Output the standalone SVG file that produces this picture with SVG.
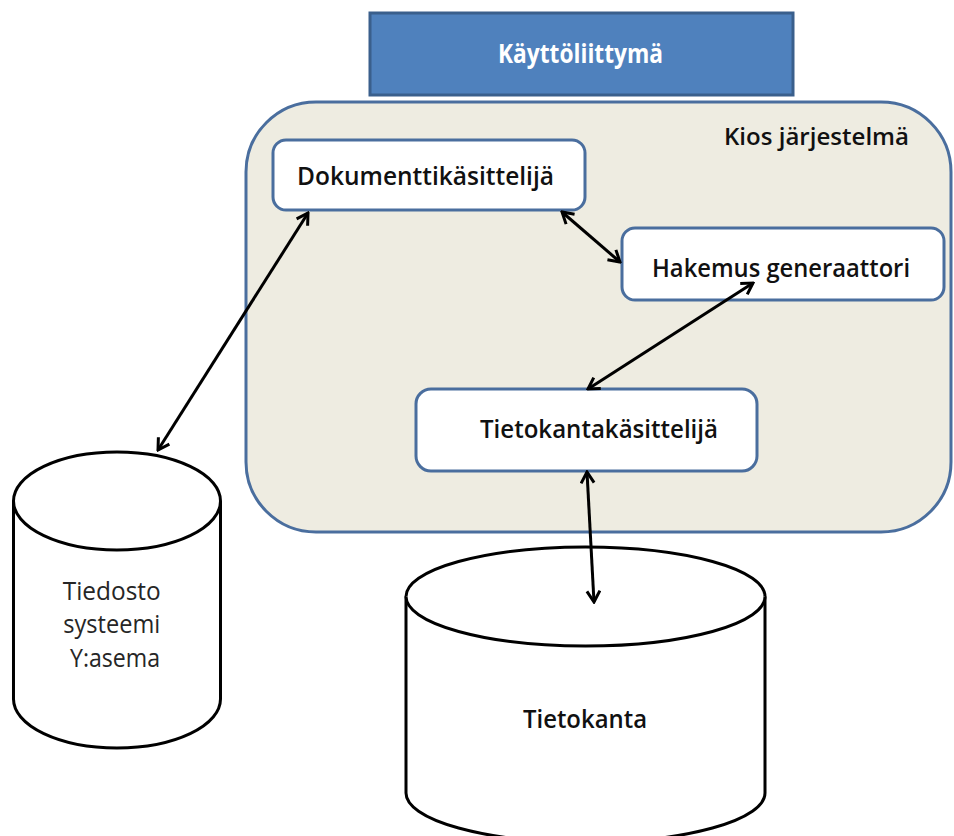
<svg xmlns="http://www.w3.org/2000/svg" width="954" height="836" viewBox="0 0 954 836">
  <defs>
    <style>
      .node { fill: #ffffff; stroke: #4a6e9e; stroke-width: 3; }
      .lbl { font-family: "Open Sans", "Liberation Sans", sans-serif; fill: #111111; }
      .b { font-weight: bold; }
      .cyl { fill: #ffffff; stroke: #000000; stroke-width: 3; }
      .link { stroke: #000000; stroke-width: 3; fill: none; marker-start: url(#tip); marker-end: url(#tip); }
    </style>
    <marker id="tip" viewBox="0 0 16 16" refX="14" refY="8" markerWidth="16" markerHeight="16" markerUnits="userSpaceOnUse" orient="auto-start-reverse">
      <path d="M3,1.5 L14,8 L3,14.5" fill="none" stroke="#000000" stroke-width="3" stroke-linejoin="miter"/>
    </marker>
  </defs>

  <!-- user interface bar -->
  <g id="kayttoliittyma">
    <rect x="370" y="13" width="423" height="82" fill="#4f81bd" stroke="#3a5f8c" stroke-width="3"/>
    <text x="580.5" y="63" text-anchor="middle" class="lbl b" font-size="27" style="fill:#ffffff" textLength="165" lengthAdjust="spacingAndGlyphs">Käyttöliittymä</text>
  </g>

  <!-- system boundary -->
  <g id="kios">
    <rect x="246" y="102" width="705" height="430" rx="70" ry="70" fill="#eeece1" stroke="#4a6e9e" stroke-width="3"/>
    <text x="724" y="145" class="lbl" font-weight="600" font-size="24" textLength="185" lengthAdjust="spacingAndGlyphs">Kios järjestelmä</text>
  </g>

  <g id="dokumenttikasittelija">
    <rect class="node" x="273" y="140" width="312" height="70" rx="13"/>
    <text x="297" y="185" class="lbl" font-weight="600" font-size="25" textLength="257" lengthAdjust="spacingAndGlyphs">Dokumenttikäsittelijä</text>
  </g>

  <g id="hakemus">
    <rect class="node" x="622" y="228" width="322" height="72" rx="13"/>
    <text x="652" y="277" class="lbl" font-weight="600" font-size="25" textLength="258" lengthAdjust="spacingAndGlyphs">Hakemus generaattori</text>
  </g>

  <g id="tietokantakasittelija">
    <rect class="node" x="416" y="389" width="341" height="82" rx="15"/>
    <text x="480" y="438" class="lbl" font-weight="600" font-size="25" textLength="238" lengthAdjust="spacingAndGlyphs">Tietokantakäsittelijä</text>
  </g>

  <!-- file system storage -->
  <g id="tiedosto">
    <path class="cyl" d="M13.5,501 A103.5,49 0 0,1 220.5,501 L220.5,699 A103.5,49 0 0,1 13.5,699 Z"/>
    <path class="cyl" d="M13.5,501 A103.5,49 0 0,0 220.5,501" fill="none"/>
    <text class="lbl" font-size="25" text-anchor="middle" style="fill:#262626">
      <tspan x="115" y="600" textLength="98" lengthAdjust="spacingAndGlyphs">Tiedosto</tspan>
      <tspan x="115" y="633" textLength="97" lengthAdjust="spacingAndGlyphs">systeemi</tspan>
      <tspan x="115" y="667" textLength="90" lengthAdjust="spacingAndGlyphs">Y:asema</tspan>
    </text>
  </g>

  <!-- database storage -->
  <g id="tietokanta">
    <path class="cyl" d="M406,596.5 A179.5,49.5 0 0,1 765,596.5 L765,793 A179.5,49.5 0 0,1 406,793 Z"/>
    <path class="cyl" d="M406,596.5 A179.5,49.5 0 0,0 765,596.5" fill="none"/>
    <text x="523" y="728" class="lbl" font-weight="600" font-size="25" textLength="124" lengthAdjust="spacingAndGlyphs">Tietokanta</text>
  </g>

  <!-- connectors -->
  <g id="connectors">
    <line class="link" x1="308" y1="213" x2="158" y2="450"/>
    <line class="link" x1="562" y1="212" x2="620" y2="262"/>
    <line class="link" x1="753" y1="283" x2="588" y2="389"/>
    <line class="link" x1="587" y1="472" x2="594" y2="602"/>
  </g>
</svg>
